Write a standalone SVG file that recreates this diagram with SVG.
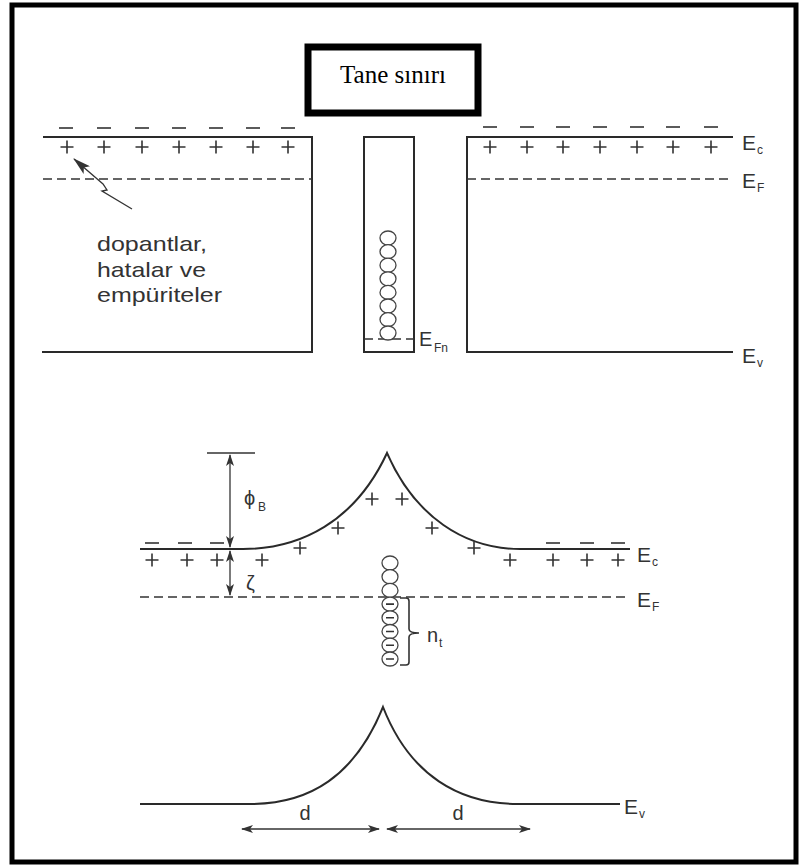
<svg xmlns="http://www.w3.org/2000/svg" width="800" height="868" viewBox="0 0 800 868">
<style>
.ln{fill:none;stroke:#2a2a2a;stroke-width:2}
.dash{fill:none;stroke:#333;stroke-width:1.6;stroke-dasharray:9 5}
.pm{fill:none;stroke:#333;stroke-width:1.6}
.lab{font-family:"Liberation Sans",Arial,sans-serif;fill:#333}
.sub{font-family:"Liberation Sans",Arial,sans-serif;fill:#333;font-size:12px}
.circ{fill:#fff;stroke:#444;stroke-width:1.3}
.arr{fill:none;stroke:#333;stroke-width:1.3}
</style>
<defs>
<path id="p" d="M-6.5,0h13M0,-6.5v13"/>
<path id="m" d="M-7,0h14"/>
<marker id="ah" viewBox="0 0 12 8" refX="11" refY="4" markerWidth="12" markerHeight="8" markerUnits="userSpaceOnUse" orient="auto-start-reverse">
<path d="M0,0 L12,4 L0,8 L3,4 Z" fill="#333"/>
</marker>
<marker id="ahb" viewBox="0 0 18 10" refX="17" refY="5" markerWidth="18" markerHeight="10" markerUnits="userSpaceOnUse" orient="auto-start-reverse">
<path d="M0,0 L18,5 L0,10 L4,5 Z" fill="#333"/>
</marker>
</defs>
<rect width="800" height="868" fill="#fff"/>
<rect x="12" y="5" width="784" height="857" fill="none" stroke="#000" stroke-width="5"/>

<g id="tane-siniri">
<rect x="308" y="47" width="170" height="66" fill="#fff" stroke="#000" stroke-width="7"/>
<text x="393" y="83" text-anchor="middle" font-family="Liberation Serif,'Times New Roman',serif" font-size="25" fill="#000">Tane sınırı</text>
</g>

<g id="left-grain">
<path class="ln" d="M43,137 H312 V352 H42"/>
<path class="dash" d="M43,179 H312"/>
<g class="pm">
<use href="#m" x="66" y="128"/><use href="#m" x="104" y="128"/><use href="#m" x="142" y="128"/><use href="#m" x="179" y="128"/><use href="#m" x="216" y="128"/><use href="#m" x="253" y="128"/><use href="#m" x="288" y="128"/>
<use href="#p" x="67" y="147"/><use href="#p" x="104" y="147"/><use href="#p" x="142" y="147"/><use href="#p" x="179" y="147"/><use href="#p" x="216" y="147"/><use href="#p" x="253" y="147"/><use href="#p" x="288" y="147"/>
</g>
<path class="arr" d="M132,209 L102,191 L107,190 L103,184 L74,159" marker-end="url(#ahb)" stroke-width="1.6"/>
<text class="lab" font-size="21" x="97" y="251" textLength="110" lengthAdjust="spacingAndGlyphs">dopantlar,</text>
<text class="lab" font-size="21" x="97" y="277" textLength="109" lengthAdjust="spacingAndGlyphs">hatalar ve</text>
<text class="lab" font-size="21" x="97" y="302" textLength="125" lengthAdjust="spacingAndGlyphs">empüriteler</text>
</g>

<g id="boundary-column">
<rect class="ln" x="364" y="137" width="50" height="215"/>
<path class="dash" d="M364,339 H414" stroke-dasharray="6 4"/>
<g class="circ">
<ellipse cx="388" cy="238" rx="8" ry="7"/><ellipse cx="388" cy="251.6" rx="8" ry="7"/><ellipse cx="388" cy="265.2" rx="8" ry="7"/><ellipse cx="388" cy="278.8" rx="8" ry="7"/><ellipse cx="388" cy="292.4" rx="8" ry="7"/><ellipse cx="388" cy="306" rx="8" ry="7"/><ellipse cx="388" cy="319.6" rx="8" ry="7"/><ellipse cx="388" cy="333" rx="8" ry="7"/>
</g>
<text class="lab" font-size="20" x="419" y="346">E</text>
<text class="sub" font-size="13" x="434" y="352">Fn</text>
</g>

<g id="right-grain">
<path class="ln" d="M733,137 H467 V352 H733"/>
<path class="dash" d="M467,179 H733"/>
<g class="pm">
<use href="#m" x="490" y="127"/><use href="#m" x="527" y="127"/><use href="#m" x="563" y="127"/><use href="#m" x="600" y="127"/><use href="#m" x="637" y="127"/><use href="#m" x="673" y="127"/><use href="#m" x="711" y="127"/>
<use href="#p" x="490" y="147"/><use href="#p" x="527" y="147"/><use href="#p" x="563" y="147"/><use href="#p" x="600" y="147"/><use href="#p" x="637" y="147"/><use href="#p" x="673" y="147"/><use href="#p" x="711" y="147"/>
</g>
<text class="lab" font-size="21" x="742" y="150">E</text>
<text class="sub" font-size="13" x="757" y="154">c</text>
<text class="lab" font-size="21" x="742" y="188">E</text>
<text class="sub" font-size="13" x="757" y="192">F</text>
<text class="lab" font-size="21" x="742" y="363">E</text>
<text class="sub" font-size="13" x="757" y="367">v</text>
</g>

<g id="barrier-ec">
<path class="ln" d="M140,549 H243 C300,549 355,522 387,453 C415,517 465,549 520,549 H630"/>
<path class="dash" d="M140,597 H630"/>
<g class="pm">
<use href="#m" x="152" y="543"/><use href="#m" x="185" y="543"/><use href="#m" x="217" y="543"/>
<use href="#m" x="553" y="543"/><use href="#m" x="587" y="543"/><use href="#m" x="618" y="543"/>
<use href="#p" x="152" y="560"/><use href="#p" x="187" y="560"/><use href="#p" x="217" y="560"/><use href="#p" x="262" y="560"/>
<use href="#p" x="300" y="548"/><use href="#p" x="338" y="528"/><use href="#p" x="372" y="499"/><use href="#p" x="402" y="499"/>
<use href="#p" x="432" y="528"/><use href="#p" x="474" y="548"/><use href="#p" x="510" y="560"/>
<use href="#p" x="553" y="560"/><use href="#p" x="587" y="560"/><use href="#p" x="618" y="560"/>
</g>
<path class="pm" d="M207,453 H255"/>
<path class="arr" d="M230,455 V547" marker-start="url(#ah)" marker-end="url(#ah)"/>
<path class="arr" d="M230,551 V595" marker-start="url(#ah)" marker-end="url(#ah)"/>
<text class="lab" font-size="20" x="244" y="505">ϕ</text>
<text class="sub" font-size="13" x="258" y="511">B</text>
<text class="lab" font-size="20" x="246" y="590">ζ</text>
<text class="lab" font-size="21" x="637" y="562">E</text>
<text class="sub" font-size="13" x="652" y="566">c</text>
<text class="lab" font-size="21" x="637" y="607">E</text>
<text class="sub" font-size="13" x="652" y="611">F</text>
</g>

<g id="trap-states">
<g class="circ">
<ellipse cx="390" cy="563" rx="8" ry="7"/><ellipse cx="390" cy="576.7" rx="8" ry="7"/><ellipse cx="390" cy="590.4" rx="8" ry="7"/><ellipse cx="390" cy="604.1" rx="8" ry="7"/><ellipse cx="390" cy="617.8" rx="8" ry="7"/><ellipse cx="390" cy="631.5" rx="8" ry="7"/><ellipse cx="390" cy="645.2" rx="8" ry="7"/><ellipse cx="390" cy="659" rx="8" ry="7"/>
</g>
<path class="pm" stroke-width="1.2" d="M386,604.1h8M386,617.8h8M386,631.5h8M386,645.2h8M386,659h8"/>
<path class="pm" stroke-width="1.5" d="M400,598 H406 Q409,598 409,601 V629 Q409,633 419,633 Q409,633 409,637 V662 Q409,665 406,665 H400"/>
<text class="lab" font-size="20" x="427" y="642">n</text>
<text class="sub" font-size="12" x="439" y="647">t</text>
</g>

<g id="barrier-ev">
<path class="ln" d="M140,804 H250 C310,804 355,776 383,707 C410,776 460,804 518,804 H620"/>
<text class="lab" font-size="21" x="624" y="814">E</text>
<text class="sub" font-size="13" x="639" y="818">v</text>
</g>

<g id="connectors">
<path class="arr" d="M242,829 H379" marker-start="url(#ah)" marker-end="url(#ah)"/>
<path class="arr" d="M387,829 H530" marker-start="url(#ah)" marker-end="url(#ah)"/>
<text class="lab" font-size="20" x="305" y="820" text-anchor="middle">d</text>
<text class="lab" font-size="20" x="458" y="820" text-anchor="middle">d</text>
</g>
</svg>
